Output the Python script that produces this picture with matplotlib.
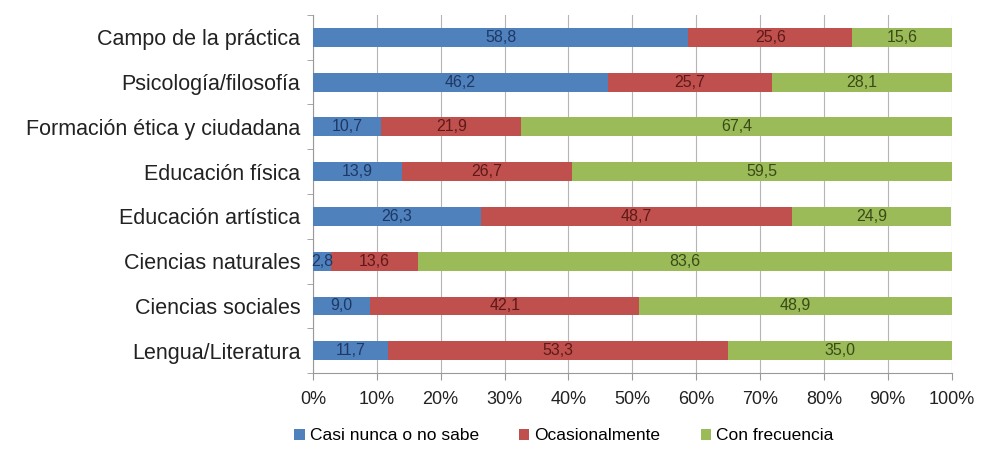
import numpy as np
import matplotlib
matplotlib.use("Agg")
import matplotlib.pyplot as plt
from matplotlib.ticker import PercentFormatter

plt.rcParams['font.family'] = ['Liberation Sans', 'DejaVu Sans']

categories = ["Lengua/Literatura", "Ciencias sociales", "Ciencias naturales",
              "Educación artística", "Educación física",
              "Formación ética y ciudadana", "Psicología/filosofía",
              "Campo de la práctica"]
casi_nunca = [11.7, 9.0, 2.8, 26.3, 13.9, 10.7, 46.2, 58.8]
ocasional = [53.3, 42.1, 13.6, 48.7, 26.7, 21.9, 25.7, 25.6]
frecuencia = [35.0, 48.9, 83.6, 24.9, 59.5, 67.4, 28.1, 15.6]

series = [("Casi nunca o no sabe", casi_nunca, "#4F81BD", "#1F3864"),
          ("Ocasionalmente", ocasional, "#C0504D", "#5C1A18"),
          ("Con frecuencia", frecuencia, "#9BBB59", "#3A4A18")]

fig = plt.figure(figsize=(9.81, 4.67), dpi=100)
ax = fig.add_axes([0.319, 0.201, 0.651, 0.767])

y = np.arange(len(categories))
left = np.zeros(len(categories))
for name, vals, col, tcol in series:
    vals = np.array(vals)
    ax.barh(y, vals, left=left, height=0.42, color=col, label=name, zorder=3)
    for yi, l, v in zip(y, left, vals):
        ax.text(l + v / 2, yi, f"{v:.1f}".replace(".", ","), ha="center",
                va="center", fontsize=11.5, color=tcol, zorder=4)
    left += vals

ax.set_xlim(0, 100)
ax.set_ylim(-0.5, len(categories) - 0.5)
ax.set_xticks(np.arange(0, 101, 10))
ax.xaxis.set_major_formatter(PercentFormatter(decimals=0))
ax.set_yticks(y)
ax.set_yticklabels(categories, fontsize=15.5, color="#222222")
ax.set_yticks(np.arange(-0.5, len(categories), 1), minor=True)
ax.tick_params(axis="y", which="major", length=0, pad=9)
ax.tick_params(axis="y", which="minor", length=4, color="#999999")
ax.tick_params(axis="x", length=5, color="#999999", labelsize=13,
               labelcolor="#222222", pad=8)
ax.grid(axis="x", color="#B5B5B5", linewidth=0.8, zorder=0)
for side in ["top", "right"]:
    ax.spines[side].set_visible(False)
for side in ["left", "bottom"]:
    ax.spines[side].set_color("#999999")

ax.legend(loc="upper center", bbox_to_anchor=(0.393, -0.11), ncol=3,
          frameon=False, fontsize=12.5, handlelength=0.6, handleheight=0.6,
          columnspacing=2.3, handletextpad=0.3)

fig.savefig("out.png", dpi=100)
